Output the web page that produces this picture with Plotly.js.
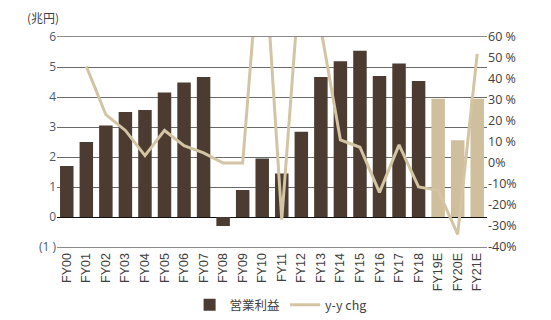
<!DOCTYPE html>
<html>
<head>
<meta charset="utf-8">
<script src="https://cdn.plot.ly/plotly-3.0.1.min.js"></script>
<style>html,body{margin:0;padding:0;background:#fff;}#chart{width:551px;height:320px;}</style>
</head>
<body>
<div id="chart"></div>
<script>
const categories = ["FY00","FY01","FY02","FY03","FY04","FY05","FY06","FY07","FY08","FY09","FY10","FY11","FY12","FY13","FY14","FY15","FY16","FY17","FY18","FY19E","FY20E","FY21E"];
const operatingProfit = [1.7,2.5,3.05,3.5,3.57,4.15,4.48,4.67,-0.3,0.9,1.95,1.45,2.84,4.67,5.19,5.54,4.7,5.12,4.53,3.94,2.56,3.94];
const yoyChg = [null,46,23,15.5,3.5,15.5,8.2,4.8,0,0,117,-27,97,64,11,7.5,-14,8.6,-11.4,-13,-34,52];
const isEstimate = [0,0,0,0,0,0,0,0,0,0,0,0,0,0,0,0,0,0,0,1,1,1];
const leftTickVals = [-1,0,1,2,3,4,5,6];
const leftTickText = ["(1 )","0","1","2","3","4","5","6"];
const rightTickVals = [-40,-30,-20,-10,0,10,20,30,40,50,60];
const rightTickText = ["-40%","-30%","-20%","-10%","0%","10 %","20 %","30 %","40 %","50 %","60 %"];

const brown = "#4b3b30";
const tan = "#cfbf9d";

const barColors = isEstimate.map(e => e ? tan : brown);

const traces = [
  {
    type: "bar", name: "営業利益", x: categories, y: operatingProfit,
    marker: {color: barColors}, yaxis: "y", hoverinfo: "skip"
  },
  {
    type: "scatter", mode: "lines", name: "y-y chg", x: categories, y: yoyChg,
    line: {color: "#d3c4a3", width: 3}, yaxis: "y2", connectgaps: false, hoverinfo: "skip"
  }
];

const layout = {
  width: 551, height: 320,
  margin: {l: 57, r: 64, t: 37, b: 73},
  paper_bgcolor: "#fff", plot_bgcolor: "rgba(0,0,0,0)",
  bargap: 0.31,
  showlegend: true,
  font: {family: "Open Sans, Liberation Sans, sans-serif", color: "#595959", size: 12},
  xaxis: {
    type: "category", tickangle: -90, showgrid: false, zeroline: false,
    showline: true, mirror: true, linecolor: "#8a8a8a", linewidth: 1,
    ticks: "", tickfont: {family: "Liberation Sans, Arial, sans-serif", size: 12.5, color: "#404040"},
    automargin: false
  },
  yaxis: {
    range: [-1, 6], tickmode: "array", tickvals: leftTickVals, ticktext: leftTickText,
    showgrid: true, gridcolor: "#6a6a6a", gridwidth: 1,
    zeroline: true, zerolinecolor: "#111111", zerolinewidth: 1,
    ticks: "", tickfont: {size: 12, color: "#4a5a6a"},
    automargin: false
  },
  yaxis2: {
    overlaying: "y", side: "right", range: [-40, 60], tickmode: "array",
    tickvals: rightTickVals, ticktext: rightTickText,
    showgrid: false, zeroline: false, ticks: "",
    tickfont: {size: 12.5, color: "#404040"}, automargin: false
  },
  legend: {
    orientation: "h", x: 0.52, xanchor: "center", yref: "container", y: 0.0, yanchor: "bottom",
    font: {family: "Noto Sans CJK JP, Open Sans, sans-serif", size: 12.5, color: "#404040"},
    traceorder: "normal"
  },
  annotations: [
    {text: "(兆円)", xref: "paper", yref: "paper", x: -0.075, y: 1.045, xanchor: "left", yanchor: "bottom",
     showarrow: false, font: {family: "Noto Sans CJK JP, sans-serif", size: 12, color: "#404040"}}
  ]
};

Plotly.newPlot("chart", traces, layout, {staticPlot: true, displayModeBar: false});
</script>
</body>
</html>
